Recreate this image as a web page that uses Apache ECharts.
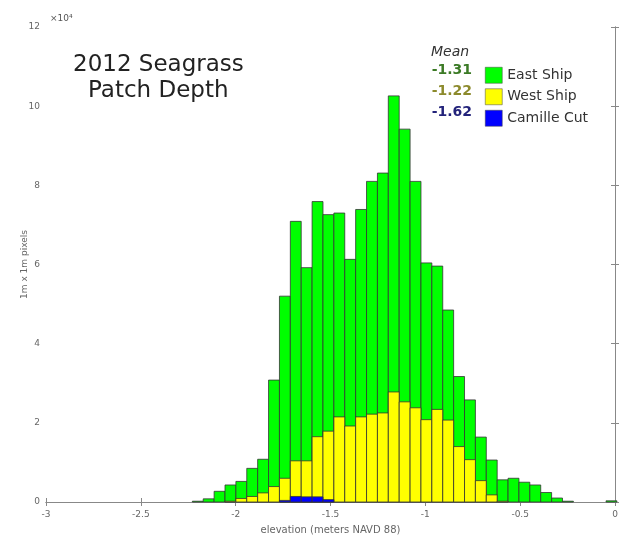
<!DOCTYPE html>
<html>
<head>
<meta charset="utf-8">
<script src="https://cdn.jsdelivr.net/npm/echarts@6/dist/echarts.min.js"></script>
<style>
  html, body { margin: 0; padding: 0; background: #fff; }
  #chart { width: 625px; height: 540px; }
</style>
</head>
<body>
<div id="chart"></div>
<script>
// histogram bins (meters NAVD 88)
var binStart = -2.2284;
var binWidth = 0.0574;
// counts in units of 10^4 pixels, one per bin
var eastShip = [0.02, 0.08, 0.27, 0.43, 0.52, 0.85, 1.08, 3.08, 5.20, 7.09,
                5.92, 7.59, 7.26, 7.30, 6.13, 7.39, 8.10, 8.31, 10.26, 9.42,
                8.10, 6.04, 5.96, 4.85, 3.17, 2.58, 1.64, 1.06, 0.56, 0.60,
                0.50, 0.43, 0.24, 0.10, 0.02, 0, 0, 0, 0.03];
var westShip = [0, 0, 0, 0.02, 0.09, 0.14, 0.23, 0.39, 0.60, 1.04,
                1.04, 1.65, 1.79, 2.15, 1.92, 2.15, 2.22, 2.25, 2.78, 2.53,
                2.38, 2.08, 2.34, 2.07, 1.40, 1.07, 0.54, 0.18, 0.02, 0,
                0, 0, 0, 0, 0, 0, 0, 0, 0];
var camilleCut = [0, 0, 0, 0, 0, 0, 0, 0, 0.04, 0.14,
                  0.13, 0.13, 0.06, 0, 0, 0, 0, 0, 0, 0,
                  0, 0, 0, 0, 0, 0, 0, 0, 0, 0,
                  0, 0, 0, 0, 0, 0, 0, 0, 0];
var seriesNames = ['East Ship', 'West Ship', 'Camille Cut'];
var meanValues = ['-1.31', '-1.22', '-1.62'];
var barColors = ['#00ff00', '#ffff00', '#0000ff'];
var meanColors = ['#3b7a25', '#8c8a2c', '#23237a'];

function toBins(counts) {
    var out = [];
    for (var i = 0; i < counts.length; i++) {
        if (counts[i] > 0) {
            out.push([binStart + i * binWidth, binStart + (i + 1) * binWidth, counts[i]]);
        }
    }
    return out;
}

function renderBar(params, api) {
    var p0 = api.coord([api.value(0), 0]);
    var p1 = api.coord([api.value(1), api.value(2)]);
    return {
        type: 'rect',
        shape: { x: p0[0], y: p1[1], width: p1[0] - p0[0], height: p0[1] - p1[1] },
        style: { fill: api.visual('color'), stroke: '#333', lineWidth: 0.8 }
    };
}

var myChart = echarts.init(document.getElementById('chart'));
var allCounts = [eastShip, westShip, camilleCut];
var series = [];
for (var s = 0; s < 3; s++) {
    series.push({
        name: seriesNames[s],
        type: 'custom',
        renderItem: renderBar,
        itemStyle: { color: barColors[s] },
        encode: { x: [0, 1], y: 2 },
        data: toBins(allCounts[s]),
        z: 2 + s
    });
}

var axisGray = '#888';
var labelStyle = { color: '#666', fontSize: 9, fontFamily: 'DejaVu Sans' };

var graphics = [
    { type: 'text', left: 73, top: 54, style: { text: '2012 Seagrass', font: '23px "DejaVu Sans"', fill: '#222' } },
    { type: 'text', left: 88, top: 80, style: { text: 'Patch Depth', font: '23px "DejaVu Sans"', fill: '#222' } },
    { type: 'text', left: 50, top: 14, style: { text: '×10⁴', font: '9px "DejaVu Sans"', fill: '#555' } },
    { type: 'text', left: 431, top: 45, style: { text: 'Mean', font: 'italic 14px "DejaVu Sans"', fill: '#333' } }
];
for (var m = 0; m < 3; m++) {
    graphics.push({
        type: 'text', right: 153, top: 63 + m * 21,
        style: { text: meanValues[m], font: 'bold 14px "DejaVu Sans"', fill: meanColors[m], textAlign: 'right' }
    });
}

option = {
    animation: false,
    backgroundColor: '#fff',
    grid: { left: 46, right: 10, top: 27, bottom: 37 },
    legend: {
        orient: 'vertical',
        left: 480,
        top: 62,
        icon: 'rect',
        itemWidth: 17,
        itemHeight: 16,
        itemGap: 5,
        selectedMode: false,
        itemStyle: { borderColor: '#444', borderWidth: 0.5 },
        textStyle: { color: '#333', fontSize: 14, fontFamily: 'DejaVu Sans' },
        data: seriesNames
    },
    xAxis: [{
        type: 'value',
        min: -3,
        max: 0,
        interval: 0.5,
        name: 'elevation (meters NAVD 88)',
        nameLocation: 'middle',
        nameGap: 23,
        nameTextStyle: { color: '#666', fontSize: 10, fontFamily: 'DejaVu Sans' },
        axisLine: { lineStyle: { color: axisGray } },
        axisTick: { inside: true, length: 4, lineStyle: { color: axisGray } },
        axisLabel: labelStyle,
        splitLine: { show: false }
    }, {
        type: 'value',
        position: 'top',
        min: -3,
        max: 0,
        interval: 0.5,
        axisLine: { show: true, lineStyle: { color: axisGray } },
        axisTick: { inside: true, length: 4, lineStyle: { color: axisGray } },
        axisLabel: { show: false },
        splitLine: { show: false }
    }],
    yAxis: [{
        type: 'value',
        min: 0,
        max: 12,
        interval: 2,
        name: '1m x 1m pixels',
        nameLocation: 'middle',
        nameGap: 17,
        nameMoveOverlap: false,
        nameTextStyle: { color: '#666', fontSize: 9, fontFamily: 'DejaVu Sans' },
        axisLine: { show: true, lineStyle: { color: axisGray } },
        axisTick: { show: true, inside: true, length: 4, lineStyle: { color: axisGray } },
        axisLabel: { color: '#666', fontSize: 9, fontFamily: 'DejaVu Sans', margin: 6 },
        splitLine: { show: false }
    }, {
        type: 'value',
        position: 'right',
        min: 0,
        max: 12,
        interval: 2,
        axisLine: { show: true, lineStyle: { color: axisGray } },
        axisTick: { show: true, inside: true, length: 4, lineStyle: { color: axisGray } },
        axisLabel: { show: false },
        splitLine: { show: false }
    }],
    graphic: graphics,
    series: series
};
myChart.setOption(option);
</script>
</body>
</html>
